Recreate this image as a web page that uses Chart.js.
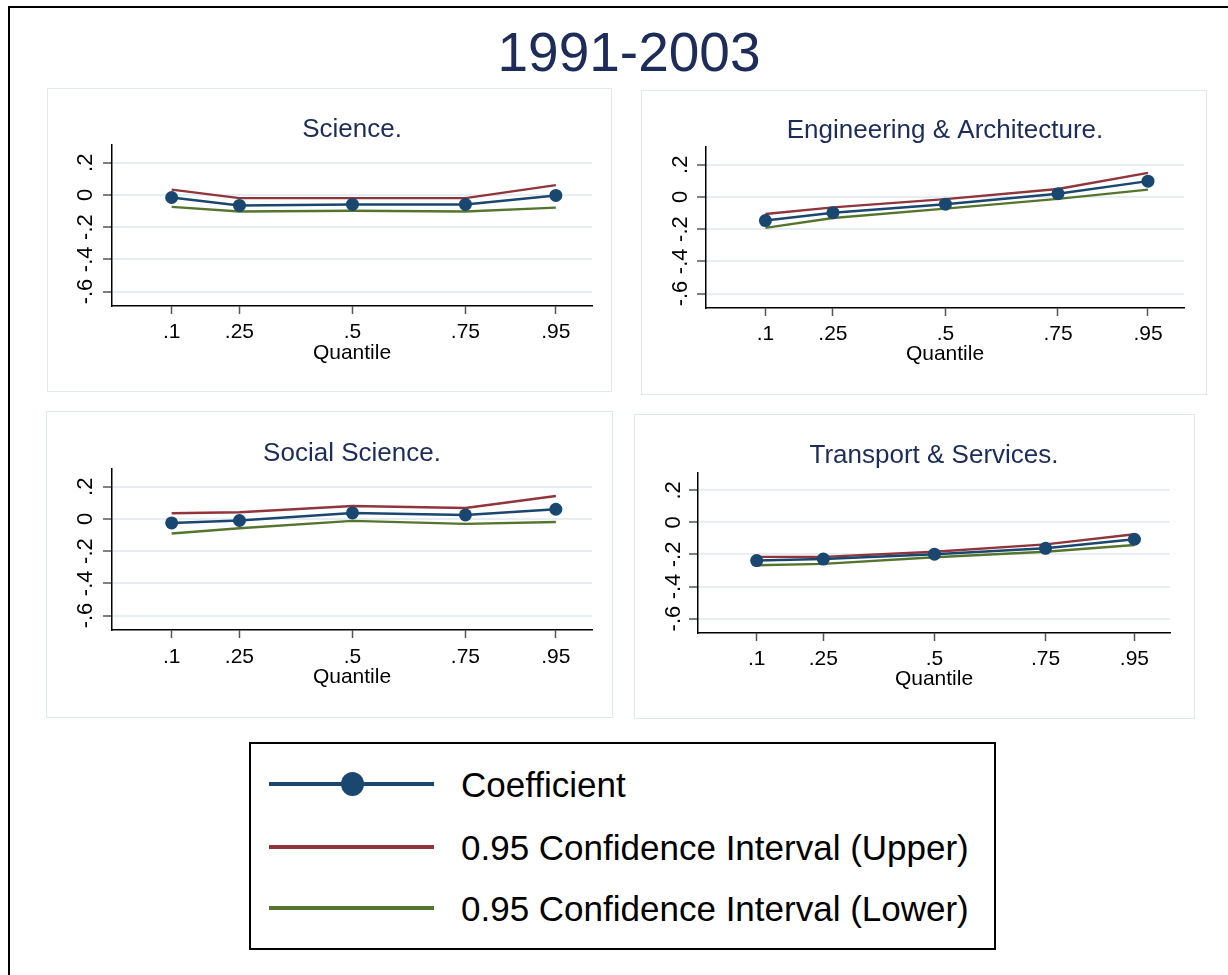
<!DOCTYPE html>
<html>
<head>
<meta charset="utf-8">
<title>1991-2003</title>
<script src="https://cdn.jsdelivr.net/npm/chart.js@4.4.1/dist/chart.umd.min.js"></script>
<style>
  html, body { margin: 0; padding: 0; background: #ffffff; }
  body {
    width: 1228px; height: 975px; position: relative; overflow: hidden;
    font-family: "Liberation Sans", Arial, Helvetica, sans-serif;
  }
  #frame {
    position: absolute; left: 8px; top: 6px; width: 1300px; height: 1100px;
    border-top: 2px solid #000; border-left: 2px solid #000;
  }
  #mainTitle {
    position: absolute; left: 329px; width: 600px; top: 25px;
    text-align: center; font-size: 55px; line-height: 55px; color: #1d2c58;
  }
  .panel { position: absolute; background: #fff; outline: 1px solid #dfe8ea; }
  .panel canvas { display: block; }
  #legend {
    position: absolute; left: 249px; top: 742px; width: 747px; height: 208px;
    border: 2px solid #000; box-sizing: border-box;
  }
  .legLine { position: absolute; height: 4px; }
  .legDot { position: absolute; width: 23px; height: 24px; border-radius: 50%; }
  .legText {
    position: absolute; font-size: 35px; line-height: 35px; color: #000; white-space: nowrap;
  }
</style>
</head>
<body>
<div id="frame"></div>
<div id="mainTitle">1991-2003</div>
<div id="panels"></div>
<div id="legend"></div>

<script>
// Quantiles on the x axis and their printed labels
const quantiles = [0.1, 0.25, 0.5, 0.75, 0.95];
const quantileLabels = ['.1', '.25', '.5', '.75', '.95'];

// Coefficient axis ticks
const yTickValues = [-0.6, -0.4, -0.2, 0, 0.2];
const yTickLabels = ['-.6', '-.4', '-.2', '0', '.2'];

const panelTitles = ['Science.', 'Engineering & Architecture.', 'Social Science.', 'Transport & Services.'];
const seriesNames = ['Coefficient', '0.95 Confidence Interval (Upper)', '0.95 Confidence Interval (Lower)'];

// Quantile regression estimates by field
const scienceCoef  = [-0.016, -0.065, -0.059, -0.059, -0.003];
const scienceUpper = [0.033, -0.020, -0.020, -0.020, 0.061];
const scienceLower = [-0.074, -0.103, -0.098, -0.103, -0.079];

const engineeringCoef  = [-0.147, -0.098, -0.045, 0.020, 0.098];
const engineeringUpper = [-0.106, -0.065, -0.014, 0.049, 0.149];
const engineeringLower = [-0.192, -0.131, -0.073, -0.012, 0.045];

const socialCoef  = [-0.025, -0.010, 0.037, 0.025, 0.060];
const socialUpper = [0.035, 0.041, 0.080, 0.068, 0.142];
const socialLower = [-0.091, -0.058, -0.012, -0.031, -0.019];

const transportCoef  = [-0.238, -0.229, -0.198, -0.162, -0.105];
const transportUpper = [-0.215, -0.215, -0.183, -0.137, -0.074];
const transportLower = [-0.267, -0.259, -0.217, -0.183, -0.141];

// Styling
const FONT = '"Liberation Sans", Arial, Helvetica, sans-serif';
const COLORS = ['#1a476f', '#90353b', '#55752f'];
const TITLE_COLOR = '#1d2c58';
const X_RANGE = [-0.032, 1.03];
const Y_RANGE = [-0.69, 0.31];

// Panel geometry (page pixels) and inner spacing
const panelLayout = [
  { left: 48,  top: 89,  width: 563, height: 302, axisLeft: 64, padRight: 19, titleTop: 27.5, titleBottom: 2.5, xHeight: 85, xTitleBottom: 25.4, xTickPad: 5.5, yTickPad: 3.8 },
  { left: 642, top: 91,  width: 564, height: 303, axisLeft: 64, padRight: 22, titleTop: 27.0, titleBottom: 3.0, xHeight: 86, xTitleBottom: 26.9, xTickPad: 5.5, yTickPad: 3.2 },
  { left: 47,  top: 412, width: 565, height: 305, axisLeft: 65, padRight: 20, titleTop: 28.5, titleBottom: 2.5, xHeight: 87, xTitleBottom: 26.9, xTickPad: 6.2, yTickPad: 4.4 },
  { left: 635, top: 415, width: 559, height: 303, axisLeft: 63, padRight: 24, titleTop: 27.5, titleBottom: 4.2, xHeight: 85, xTitleBottom: 26.4, xTickPad: 5.2, yTickPad: 2.2 }
];

const panelSeries = [
  [scienceCoef, scienceUpper, scienceLower],
  [engineeringCoef, engineeringUpper, engineeringLower],
  [socialCoef, socialUpper, socialLower],
  [transportCoef, transportUpper, transportLower]
];

function toPoints(values) {
  return quantiles.map((q, i) => ({ x: q, y: values[i] }));
}

function buildPanel(idx) {
  const box = panelLayout[idx];
  const holder = document.createElement('div');
  holder.className = 'panel';
  holder.style.left = box.left + 'px';
  holder.style.top = box.top + 'px';
  holder.style.width = box.width + 'px';
  holder.style.height = box.height + 'px';
  const canvas = document.createElement('canvas');
  holder.appendChild(canvas);
  document.getElementById('panels').appendChild(holder);

  const [coef, upper, lower] = panelSeries[idx];

  new Chart(canvas, {
    type: 'line',
    data: {
      datasets: [
        {
          label: seriesNames[0], data: toPoints(coef),
          borderColor: COLORS[0], backgroundColor: COLORS[0], borderWidth: 2.5,
          pointRadius: 6.5, pointHoverRadius: 6.5, pointBorderWidth: 0,
          pointBackgroundColor: COLORS[0], tension: 0, fill: false
        },
        {
          label: seriesNames[1], data: toPoints(upper),
          borderColor: COLORS[1], borderWidth: 2.4, pointRadius: 0, tension: 0, fill: false
        },
        {
          label: seriesNames[2], data: toPoints(lower),
          borderColor: COLORS[2], borderWidth: 2.4, pointRadius: 0, tension: 0, fill: false
        }
      ]
    },
    options: {
      responsive: true,
      maintainAspectRatio: false,
      animation: false,
      devicePixelRatio: 1,
      events: [],
      layout: { padding: { left: 0, right: box.padRight, top: 0, bottom: 0 } },
      plugins: {
        legend: { display: false },
        tooltip: { enabled: false },
        title: {
          display: true, text: panelTitles[idx], fullSize: false,
          color: TITLE_COLOR, font: { family: FONT, size: 26, weight: 'normal', lineHeight: 1 },
          padding: { top: box.titleTop, bottom: box.titleBottom }
        }
      },
      scales: {
        x: {
          type: 'linear', position: 'bottom',
          min: X_RANGE[0], max: X_RANGE[1],
          afterBuildTicks: (scale) => { scale.ticks = quantiles.map(v => ({ value: v })); },
          afterFit: (scale) => { scale.height = box.xHeight; },
          ticks: {
            callback: (value, index) => quantileLabels[index],
            autoSkip: false, maxRotation: 0, minRotation: 0,
            padding: box.xTickPad, color: '#000',
            font: { family: FONT, size: 21 }
          },
          grid: {
            drawOnChartArea: false, drawTicks: true, tickLength: 8,
            tickColor: '#555', tickWidth: 1.5
          },
          border: { display: true, color: '#000', width: 1.5 },
          title: {
            display: true, text: 'Quantile', color: '#000',
            font: { family: FONT, size: 21 },
            padding: { top: 0, bottom: box.xTitleBottom }
          }
        },
        y: {
          type: 'linear', position: 'left',
          min: Y_RANGE[0], max: Y_RANGE[1],
          afterBuildTicks: (scale) => { scale.ticks = yTickValues.map(v => ({ value: v })); },
          afterFit: (scale) => { scale.width = box.axisLeft; },
          ticks: {
            callback: (value, index) => yTickLabels[index],
            autoSkip: false, minRotation: 90, maxRotation: 90,
            crossAlign: 'center', padding: box.yTickPad, color: '#000',
            font: { family: FONT, size: 22 }
          },
          grid: {
            drawOnChartArea: true, color: '#e6eef1', lineWidth: 2,
            drawTicks: true, tickLength: 9, tickColor: '#555', tickWidth: 1.5
          },
          border: { display: true, color: '#000', width: 1.5 }
        }
      }
    }
  });
}

for (let i = 0; i < panelTitles.length; i++) buildPanel(i);

// Shared key below the panels
(function buildLegend() {
  const rowCenters = [784, 847, 908];
  const body = document.body;
  seriesNames.forEach((name, i) => {
    const line = document.createElement('div');
    line.className = 'legLine';
    line.style.left = '269px';
    line.style.width = '165px';
    line.style.top = (rowCenters[i] - 2) + 'px';
    line.style.background = COLORS[i];
    body.appendChild(line);
    if (i === 0) {
      const dot = document.createElement('div');
      dot.className = 'legDot';
      dot.style.left = (352 - 11.5) + 'px';
      dot.style.top = (rowCenters[i] - 12) + 'px';
      dot.style.background = COLORS[i];
      body.appendChild(dot);
    }
    const txt = document.createElement('div');
    txt.className = 'legText';
    txt.style.left = '461px';
    txt.style.top = (rowCenters[i] - 17.1) + 'px';
    txt.textContent = name;
    body.appendChild(txt);
  });
})();
</script>
</body>
</html>
